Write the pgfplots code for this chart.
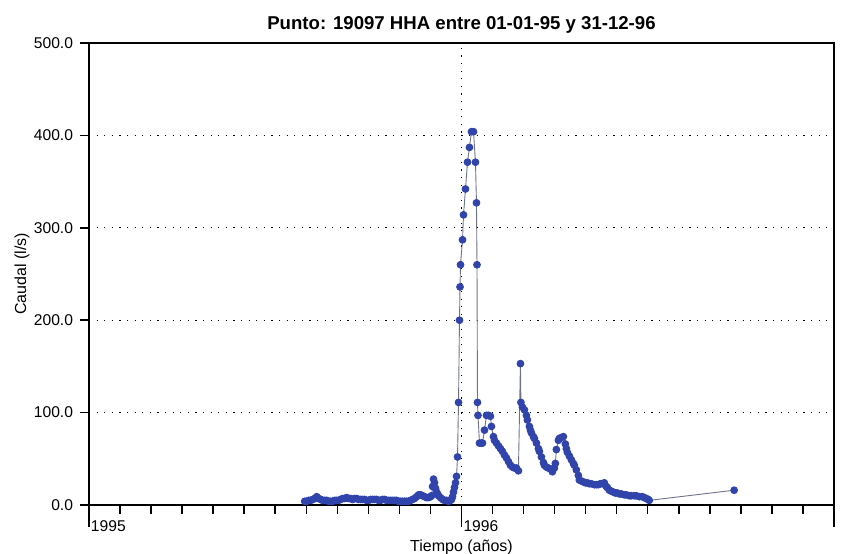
\documentclass[border=0pt]{standalone}
\usepackage{fontspec}
\setmainfont{Liberation Sans}
\usepackage{pgfplots}
\pgfplotsset{compat=1.18}

\definecolor{markblue}{RGB}{48,68,172}
\definecolor{linegray}{RGB}{110,115,140}

% caudal (l/s) against time in fractional years
\pgfplotstableread{
t        q
1995.5791 4
1995.5845 4
1995.5898 5
1995.5952 5
1995.6005 6
1995.6059 7
1995.6113 9
1995.6166 7
1995.6220 6
1995.6273 5
1995.6327 5
1995.6381 5
1995.6434 4
1995.6488 4
1995.6542 4
1995.6595 5
1995.6649 5
1995.6702 5
1995.6756 6
1995.6810 7
1995.6863 7
1995.6917 8
1995.6971 7
1995.7024 7
1995.7078 6
1995.7131 7
1995.7185 7
1995.7239 6
1995.7292 6
1995.7346 6
1995.7399 6
1995.7453 5
1995.7507 5
1995.7560 6
1995.7614 6
1995.7668 6
1995.7721 6
1995.7775 5
1995.7828 5
1995.7882 6
1995.7936 6
1995.7989 5
1995.8043 5
1995.8097 5
1995.8150 5
1995.8204 5
1995.8257 5
1995.8311 4
1995.8365 4
1995.8418 4
1995.8472 4
1995.8525 4
1995.8579 4
1995.8633 5
1995.8686 6
1995.8740 7
1995.8794 9
1995.8847 11
1995.8901 11
1995.8954 10
1995.9008 9
1995.9062 8
1995.9115 8
1995.9169 9
1995.9196 10
1995.9223 20
1995.9249 28
1995.9276 24
1995.9303 18
1995.9330 14
1995.9357 12
1995.9383 10
1995.9437 8
1995.9491 6
1995.9544 5
1995.9598 5
1995.9651 4
1995.9705 5
1995.9732 6
1995.9759 9
1995.9786 14
1995.9812 19
1995.9839 24
1995.9866 31
1995.9893 52
1995.9920 111
1995.9946 200
1995.9960 236
1995.9973 260
1996.0027 287
1996.0054 314
1996.0107 342
1996.0161 371
1996.0214 387
1996.0268 404
1996.0322 404
1996.0375 371
1996.0402 327
1996.0416 260
1996.0429 111
1996.0442 97
1996.0483 67
1996.0536 67
1996.0563 67
1996.0617 81
1996.0670 97
1996.0724 97
1996.0777 96
1996.0804 85
1996.0858 74
1996.0885 70
1996.0938 67
1996.0992 64
1996.1046 61
1996.1099 58
1996.1153 54
1996.1206 51
1996.1260 47
1996.1314 43
1996.1367 41
1996.1421 40
1996.1475 40
1996.1528 37
1996.1582 153
1996.1595 111
1996.1635 106
1996.1689 103
1996.1742 97
1996.1769 92
1996.1823 85
1996.1850 81
1996.1877 78
1996.1930 74
1996.1957 72
1996.2011 67
1996.2065 61
1996.2091 58
1996.2145 52
1996.2199 46
1996.2225 43
1996.2279 41
1996.2333 40
1996.2386 39
1996.2440 36
1996.2493 40
1996.2520 45
1996.2547 60
1996.2601 70
1996.2627 72
1996.2681 73
1996.2735 74
1996.2788 66
1996.2815 61
1996.2842 57
1996.2895 53
1996.2949 49
1996.3003 45
1996.3029 43
1996.3083 38
1996.3137 32
1996.3164 27
1996.3217 26
1996.3271 25
1996.3325 24
1996.3378 24
1996.3432 23
1996.3485 23
1996.3566 22
1996.3619 22
1996.3673 22
1996.3727 23
1996.3780 23
1996.3834 24
1996.3887 20
1996.3914 19
1996.3968 16
1996.4021 15
1996.4075 14
1996.4129 13
1996.4182 13
1996.4236 12
1996.4290 12
1996.4370 11
1996.4424 11
1996.4504 10
1996.4558 10
1996.4638 10
1996.4692 10
1996.4772 9
1996.4853 9
1996.4906 8
1996.4960 7
1996.5013 6
1996.5040 5
1996.7319 16
}\caudal

\begin{document}
\begin{tikzpicture}
\begin{axis}[
  scale only axis,
  width=372.5pt, height=231pt,
  xmin=1995, xmax=1997,
  ymin=0, ymax=500,
  xtick={1995,1996,1997},
  xticklabels={1995,1996,},
  minor x tick num=11,
  xticklabel style={anchor=north west, inner sep=0pt, xshift=0.8pt, yshift=3.5pt},
  ytick=\empty,
  extra y ticks={0,100,200,300,400,500},
  extra y tick style={major tick length=4.5pt, grid=major,
    yticklabel style={/pgf/number format/.cd, fixed, fixed zerofill, precision=1}},
  /pgf/number format/assume math mode=true,
  tick align=outside,
  xtick pos=bottom, ytick pos=left,
  major tick length=11pt,
  minor tick length=4.5pt,
  tick style={black, line width=0.75pt},
  axis line style={black, line width=0.85pt},
  xmajorgrids,
  major grid style={black, line width=0.6pt, dash pattern=on 0.6pt off 3.2pt},
  tick label style={font=\fontsize{7.8}{9}\selectfont},
  title={Punto: 19097 HHA entre 01-01-95 y 31-12-96},
  title style={font=\fontsize{9.3}{11}\selectfont\bfseries, at={(0.5,1)}, anchor=base, yshift=0.5pt},
  xlabel={Tiempo (años)},
  ylabel={Caudal (l/s)},
  label style={font=\fontsize{8}{10}\selectfont},
  x label style={at={(axis description cs:0.5,0)}, anchor=center, yshift=-21pt},
  y label style={at={([xshift=-33.5pt]axis description cs:0,0.5)}, anchor=center},
  clip=false,
]
\addplot[color=linegray, line width=0.45pt, mark=*, mark size=1.7pt,
  mark options={draw=markblue, fill=markblue}] table[x=t, y=q] {\caudal};
\coordinate (bl) at (rel axis cs:0,0);
\coordinate (tr) at (rel axis cs:1,1);
\end{axis}
\pgfresetboundingbox
\path ([shift={(-44.5pt,-24.5pt)}]bl) rectangle ([shift={(7.5pt,21.5pt)}]tr);
\end{tikzpicture}
\end{document}
